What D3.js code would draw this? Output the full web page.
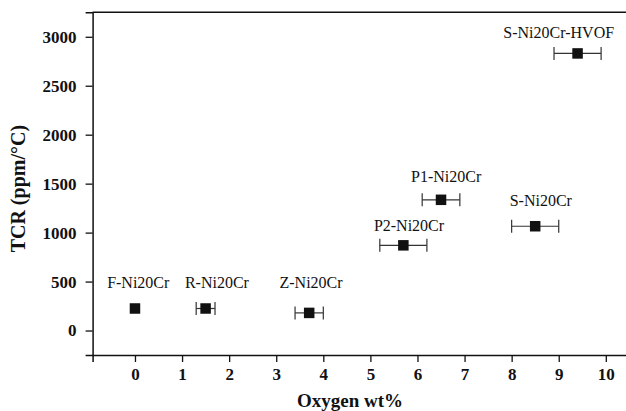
<!DOCTYPE html>
<html>
<head>
<meta charset="utf-8">
<script src="https://cdn.jsdelivr.net/npm/d3@7"></script>
<style>
  html, body { margin: 0; padding: 0; background: #fff; }
  svg { display: block; }
  svg text { font-family: 'Liberation Serif', 'DejaVu Serif', serif !important; fill: #111; }
</style>
</head>
<body>
<svg id="chart" width="626" height="411"></svg>
<script>
// Coatings, oxygen content (wt%) and TCR (ppm/°C)
const samples   = ["F-Ni20Cr", "R-Ni20Cr", "Z-Ni20Cr", "P2-Ni20Cr", "P1-Ni20Cr", "S-Ni20Cr", "S-Ni20Cr-HVOF"];
const oxygen    = [0, 1.5, 3.7, 5.7, 6.5, 8.5, 9.4];
const oxygenErr = [0, 0.2, 0.3, 0.5, 0.4, 0.5, 0.5];
const tcr       = [225, 225, 180, 870, 1335, 1065, 2830];
// Label anchors (in axis units: oxygen wt%, TCR)
const labelX    = [0.07, 1.74, 3.74, 5.82, 6.61, 8.62, 9.0];
const labelY    = [430, 430, 437, 1020, 1520, 1268, 2992];

const xTicks = [0, 1, 2, 3, 4, 5, 6, 7, 8, 9, 10];
const yTicks = [0, 500, 1000, 1500, 2000, 2500, 3000];

const svg = d3.select("#chart");
const plotLeft = 92.6, plotRight = 627, plotTop = 12.3, plotBottom = 355;

const x = d3.scaleLinear().domain([-0.9, 10.45]).range([plotLeft, plotRight]);
const y = d3.scaleLinear().domain([-250, 3250]).range([plotBottom, plotTop]);

// Minor ticks
const xMinor = d3.range(-0.5, 10.5, 1);
const yMinor = d3.range(-250, 3251, 500);

const gx = svg.append("g").attr("transform", `translate(0,${plotBottom})`);
gx.call(d3.axisBottom(x).tickValues(xMinor).tickSize(4).tickFormat(""));
gx.call(d3.axisBottom(x).tickValues(xTicks).tickSize(7).tickPadding(6).tickFormat(d3.format("d")));
gx.attr("font-family", null);
gx.selectAll(".domain").attr("stroke-width", 1.5).attr("stroke", "#111");
gx.selectAll(".tick line").attr("stroke-width", 1.3).attr("stroke", "#111");
gx.selectAll(".tick text").attr("font-size", 17).attr("font-weight", "bold");

const gy = svg.append("g").attr("transform", `translate(${plotLeft},0)`);
gy.call(d3.axisLeft(y).tickValues(yMinor).tickSize(4).tickFormat(""));
gy.call(d3.axisLeft(y).tickValues(yTicks).tickSize(7).tickPadding(9).tickFormat(d3.format("d")));
gy.attr("font-family", null);
gy.selectAll(".domain").attr("stroke-width", 1.5).attr("stroke", "#111");
gy.selectAll(".tick line").attr("stroke-width", 1.3).attr("stroke", "#111");
gy.selectAll(".tick text").attr("font-size", 17).attr("font-weight", "bold");

// Top frame line
svg.append("line")
  .attr("x1", plotLeft).attr("x2", plotRight).attr("y1", plotTop).attr("y2", plotTop)
  .attr("stroke", "#111").attr("stroke-width", 1.5);

// Horizontal error bars
const capH = 6.5;
const pts = samples.map((s, i) => ({ s, x: oxygen[i], e: oxygenErr[i], y: tcr[i], lx: labelX[i], ly: labelY[i] }));
const eb = svg.append("g").attr("stroke", "#333").attr("stroke-width", 1.2);
pts.filter(d => d.e > 0).forEach(d => {
  const cy = y(d.y);
  eb.append("line").attr("x1", x(d.x - d.e)).attr("x2", x(d.x + d.e)).attr("y1", cy).attr("y2", cy);
  eb.append("line").attr("x1", x(d.x - d.e)).attr("x2", x(d.x - d.e)).attr("y1", cy - capH).attr("y2", cy + capH);
  eb.append("line").attr("x1", x(d.x + d.e)).attr("x2", x(d.x + d.e)).attr("y1", cy - capH).attr("y2", cy + capH);
});

// Square markers
const m = 10.5;
svg.append("g").selectAll("rect").data(pts).join("rect")
  .attr("x", d => x(d.x) - m / 2).attr("y", d => y(d.y) - m / 2)
  .attr("width", m).attr("height", m).attr("fill", "#111");

// Sample labels
svg.append("g").selectAll("text").data(pts).join("text")
  .attr("x", d => x(d.lx)).attr("y", d => y(d.ly))
  .attr("text-anchor", "middle").attr("font-size", 16)
  .text(d => d.s);

// Axis titles
svg.append("text")
  .attr("x", 350).attr("y", 407)
  .attr("text-anchor", "middle").attr("font-size", 19).attr("font-weight", "bold")
  .text("Oxygen wt%");

svg.append("text")
  .attr("transform", `translate(25,${(plotTop + plotBottom) / 2 + 5}) rotate(-90)`)
  .attr("text-anchor", "middle").attr("font-size", 20).attr("font-weight", "bold")
  .text("TCR (ppm/°C)");
</script>
</body>
</html>
